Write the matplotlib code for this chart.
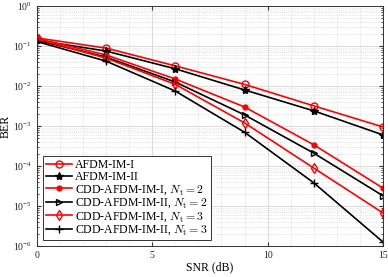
import numpy as np
import matplotlib.pyplot as plt
from matplotlib.ticker import LogLocator, NullFormatter

plt.rcParams['font.family'] = ['Liberation Serif', 'DejaVu Serif']
plt.rcParams['mathtext.fontset'] = 'cm'

snr = [0, 3, 6, 9, 12, 15]
afdm_im1 = [0.16, 0.089, 0.032, 0.011, 0.0032, 9.5e-4]
afdm_im2 = [0.14, 0.075, 0.027, 0.008, 0.0024, 6.0e-4]
cdd_im1_nt2 = [0.155, 0.060, 0.015, 0.0030, 3.4e-4, 2.8e-5]
cdd_im2_nt2 = [0.14, 0.053, 0.0126, 0.0019, 2.1e-4, 1.8e-5]
cdd_im1_nt3 = [0.15, 0.050, 0.011, 0.0012, 8.9e-5, 6.7e-6]
cdd_im2_nt3 = [0.13, 0.042, 0.0075, 7.0e-4, 3.8e-5, 1.26e-6]

fig = plt.figure(figsize=(3.88, 2.77), dpi=100)
ax = fig.add_axes([0.095, 0.112, 0.892, 0.866])

lw = 1.2
ax.semilogy(snr, afdm_im1, color='red', marker='o', mfc='none', ms=5, lw=lw, label='AFDM-IM-I')
ax.semilogy(snr, afdm_im2, color='black', marker='*', ms=6, lw=lw, label='AFDM-IM-II')
ax.semilogy(snr, cdd_im1_nt2, color='red', marker='.', ms=7, lw=lw,
            label=r'CDD-AFDM-IM-I, $N_\mathrm{t}=2$')
ax.semilogy(snr, cdd_im2_nt2, color='black', marker='>', mfc='none', ms=5, lw=lw,
            label=r'CDD-AFDM-IM-II, $N_\mathrm{t}=2$')
ax.semilogy(snr, cdd_im1_nt3, color='red', marker='d', mfc='none', ms=5, lw=lw,
            label=r'CDD-AFDM-IM-I, $N_\mathrm{t}=3$')
ax.semilogy(snr, cdd_im2_nt3, color='black', marker='+', ms=6, lw=lw,
            label=r'CDD-AFDM-IM-II, $N_\mathrm{t}=3$')

ax.set_xlim(0, 15)
ax.set_ylim(1e-6, 1)
ax.set_xticks([0, 5, 10, 15])
ax.yaxis.set_major_locator(LogLocator(base=10, numticks=10))
ax.yaxis.set_minor_locator(LogLocator(base=10, subs=np.arange(2, 10), numticks=20))
ax.yaxis.set_minor_formatter(NullFormatter())
ax.xaxis.set_minor_locator(plt.MultipleLocator(1))
ax.xaxis.set_minor_formatter(NullFormatter())

ax.grid(True, which='major', color='#dddddd', lw=0.8)
ax.grid(True, which='minor', color='#cccccc', lw=0.5, linestyle=':')
ax.set_axisbelow(True)
ax.tick_params(which='both', direction='in', top=True, right=True, labelsize=7,
               colors='#333333', labelcolor='#222222')
ax.tick_params(which='major', length=3)
ax.tick_params(which='minor', length=1.5)
ax.tick_params(axis='x', which='minor', length=0)
for s in ax.spines.values():
    s.set_color('#333333')
    s.set_linewidth(0.7)

ax.set_xlabel('SNR (dB)', fontsize=8.5, labelpad=1)
ax.set_ylabel('BER', fontsize=8.5, labelpad=1)

leg = ax.legend(loc='lower left', fontsize=8.5, fancybox=False, edgecolor='#333333',
                framealpha=1, borderpad=0.25, labelspacing=0.0, handlelength=2.2,
                handletextpad=0.3, borderaxespad=0.5)
leg.get_frame().set_linewidth(0.7)

fig.savefig('out.png', dpi=100)
